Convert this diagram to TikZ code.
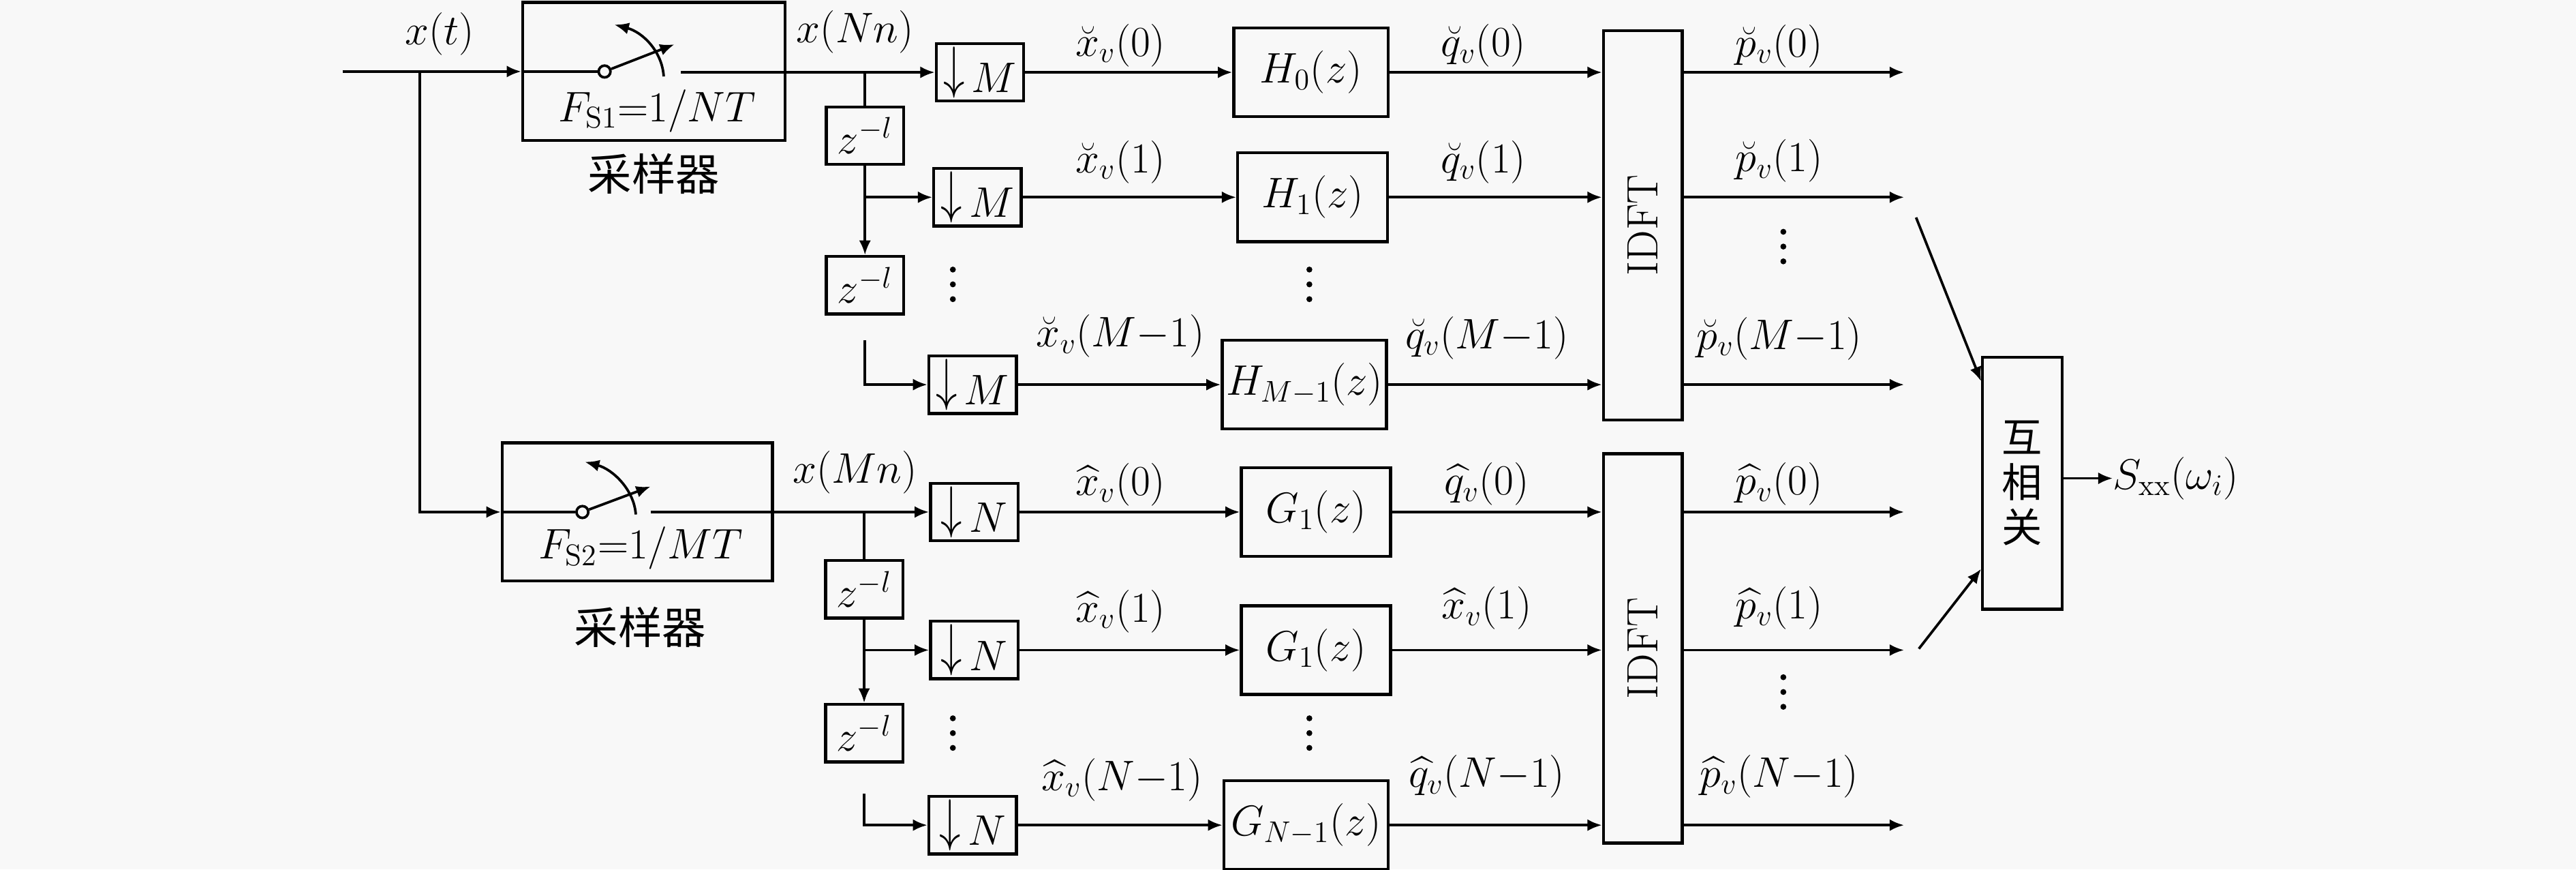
\RequirePackage{fix-cm}
\documentclass[tikz,border=0pt]{standalone}
\usepackage{amsmath}
\usepackage{fontspec}
\newfontfamily\cjk{Noto Sans CJK SC}
\usetikzlibrary{arrows.meta,calc}
\definecolor{bgc}{RGB}{248,248,248}
\newcommand{\dwn}[1]{\raisebox{2.5pt}{\scalebox{1}[1.35]{$\downarrow$}}\kern3pt$#1$}
\tikzset{
  ln/.style={line width=1.1pt},
  arr/.style={line width=1.1pt,-{Latex[length=2.2mm,width=1.8mm]}},
  blk/.style={draw,line width=1.3pt,inner sep=0pt},
  dbox/.style={blk,minimum width=1.33cm,minimum height=0.875cm},
  zbox/.style={blk,minimum width=1.175cm,minimum height=0.875cm},
  fbox/.style={blk,minimum height=1.35cm},
  ibox/.style={blk,minimum width=1.2cm,minimum height=5.92cm},
  lbl/.style={inner sep=0pt,anchor=base},
  swc/.style={circle,draw,line width=1.1pt,inner sep=0pt,minimum size=0.18cm,fill=bgc},
  cntext/.style={inner sep=0pt,font=\cjk\fontsize{19}{22}\selectfont},
}
\begin{document}
\begin{tikzpicture}[x=0.025cm,y=-0.025cm,font=\fontsize{18.5}{22}\selectfont]
\fill[bgc] (0,0) rectangle (1568,529);
\useasboundingbox (0,0) rectangle (1568,529);

% ---------- samplers ----------
\node[blk,minimum width=3.99cm,minimum height=2.1cm] (s1) at (398,43.5) {};
\node[blk,minimum width=4.11cm,minimum height=2.1cm] (s2) at (388,311.5) {};
\node[lbl] (fs1) at (400,74) {$F_{\mathrm{S1}}{=}1/NT$};
\node[lbl] (fs2) at (390,340) {$F_{\mathrm{S2}}{=}1/MT$};
\node[cntext] (cn1) at (398,105.8) {采样器};
\node[cntext] (cn2) at (389.6,381.6) {采样器};

\node[swc] (c1) at (368,43.5) {};
\node[swc] (c2) at (354.5,311.5) {};
\draw[ln] (s1.west) -- (c1);
\draw[arr] (c1) -- (410.5,27);
\draw[arr] (404,46.5) .. controls (403,31) and (391,19.5) .. (374,15);
\draw[ln] (s2.west) -- (c2);
\draw[arr] (c2) -- (396,296);
\draw[arr] (387,313) .. controls (386,298) and (373,285.5) .. (356,281);

% ---------- input ----------
\coordinate (in) at (208.5,43.5);
\coordinate (br) at (255.5,43.5);
\node[lbl] (xt) at (267.5,27) {$x(t)$};
\draw[arr] (in) -- (s1.west);
\draw[arr] (br) |- (s2.west);

% ---------- upper bank ----------
\coordinate (k1) at (414.5,44);
\node[lbl] (xnn) at (520.5,26) {$x(Nn)$};
\node[dbox] (d1) at (596.5,44) {\dwn{M}};
\node[dbox] (d2) at (595,120) {\dwn{M}};
\node[dbox] (d3) at (592,234) {\dwn{M}};
\node[zbox] (z1) at (526.5,82.5) {$z^{-l}$};
\node[zbox] (z2) at (526.5,173.5) {$z^{-l}$};
\coordinate (t1) at (527,207);
\draw[arr] (k1) -- (d1.west);
\draw[ln] (z1.north |- d1.west) -- (z1.north);
\draw[arr] (z1.south) -- (z2.north);
\draw[arr] (z1.south |- d2.west) -- (d2.west);
\draw[arr] (t1 -| z2.south) |- (d3.west);

\node[fbox,minimum width=2.35cm] (h0) at (798,44) {$H_0(z)$};
\node[fbox,minimum width=2.28cm] (h1) at (799,120) {$H_1(z)$};
\node[fbox,minimum width=2.5cm] (hM) at (794,234) {$H_{M{-}1}(z)$};
\draw[arr] (d1.east) -- (h0.west);
\draw[arr] (d2.east) -- (h1.west);
\draw[arr] (d3.east) -- (hM.west);

\node[ibox] (idft1) at (1000,137) {};
\node[rotate=90,inner sep=0pt,font=\fontsize{19}{22}\selectfont] (tx1) at (idft1.center) {IDFT};
\draw[arr] (h0.east) -- (h0.east -| idft1.west);
\draw[arr] (h1.east) -- (h1.east -| idft1.west);
\draw[arr] (hM.east) -- (hM.east -| idft1.west);

\coordinate (oA) at (1159,44);
\coordinate (oB) at (1159,120);
\coordinate (oC) at (1159,234);
\draw[arr] (oA -| idft1.east) -- (oA);
\draw[arr] (oB -| idft1.east) -- (oB);
\draw[arr] (oC -| idft1.east) -- (oC);

\node[lbl] (lx0) at (682,34.2) {$\breve{x}_v(0)$};
\node[lbl] (lx1) at (682,105) {$\breve{x}_v(1)$};
\node[lbl] (lxM) at (682,211) {$\breve{x}_v(M{-}1)$};
\node[lbl] (lq0) at (903,34.3) {$\breve{q}_v(0)$};
\node[lbl] (lq1) at (903,105) {$\breve{q}_v(1)$};
\node[lbl] (lqM) at (905,212) {$\breve{q}_v(M{-}1)$};
\node[lbl] (lp0) at (1083,34.5) {$\breve{p}_v(0)$};
\node[lbl] (lp1) at (1083,104.5) {$\breve{p}_v(1)$};
\node[lbl] (lpM) at (1083,212.5) {$\breve{p}_v(M{-}1)$};

% ---------- lower bank ----------
\coordinate (k2) at (396,311.5);
\node[lbl] (xmn) at (520.5,294) {$x(Mn)$};
\node[dbox] (n1) at (593,311.5) {\dwn{N}};
\node[dbox] (n2) at (593,395.5) {\dwn{N}};
\node[dbox] (n3) at (592,502) {\dwn{N}};
\node[zbox] (z3) at (526,358.5) {$z^{-l}$};
\node[zbox] (z4) at (526,446) {$z^{-l}$};
\coordinate (t2) at (526,483);
\draw[arr] (k2) -- (n1.west);
\draw[ln] (z3.north |- n1.west) -- (z3.north);
\draw[arr] (z3.south) -- (z4.north);
\draw[arr] (z3.south |- n2.west) -- (n2.west);
\draw[arr] (t2 -| z4.south) |- (n3.west);

\node[fbox,minimum width=2.27cm] (g0) at (801,311.5) {$G_1(z)$};
\node[fbox,minimum width=2.27cm] (g1) at (801,395.5) {$G_1(z)$};
\node[fbox,minimum width=2.5cm] (gN) at (795,502) {$G_{N{-}1}(z)$};
\draw[arr] (n1.east) -- (g0.west);
\draw[arr] (n2.east) -- (g1.west);
\draw[arr] (n3.east) -- (gN.west);

\node[ibox] (idft2) at (1000,394.5) {};
\node[rotate=90,inner sep=0pt,font=\fontsize{19}{22}\selectfont] (tx2) at (idft2.center) {IDFT};
\draw[arr] (g0.east) -- (g0.east -| idft2.west);
\draw[arr] (g1.east) -- (g1.east -| idft2.west);
\draw[arr] (gN.east) -- (gN.east -| idft2.west);

\coordinate (oD) at (1159,311.5);
\coordinate (oE) at (1159,395.5);
\coordinate (oF) at (1159,502);
\draw[arr] (oD -| idft2.east) -- (oD);
\draw[arr] (oE -| idft2.east) -- (oE);
\draw[arr] (oF -| idft2.east) -- (oF);

\node[lbl] (hx0) at (682,301.5) {$\widehat{x}_v(0)$};
\node[lbl] (hx1) at (682,378.5) {$\widehat{x}_v(1)$};
\node[lbl] (hxN) at (683,481) {$\widehat{x}_v(N{-}1)$};
\node[lbl] (hq0) at (905,301) {$\widehat{q}_v(0)$};
\node[lbl] (hq1) at (905,376.5) {$\widehat{x}_v(1)$};
\node[lbl] (hqN) at (905,479) {$\widehat{q}_v(N{-}1)$};
\node[lbl] (hp0) at (1083,301) {$\widehat{p}_v(0)$};
\node[lbl] (hp1) at (1083,376.5) {$\widehat{p}_v(1)$};
\node[lbl] (hpN) at (1083,479) {$\widehat{p}_v(N{-}1)$};

% ---------- dots ----------
\foreach \cx/\cy in {580/173,797/173,1085.5/150,580/446,797/446,1085.5/421}{
  \foreach \dd in {-9,0,9}{
    \fill (\cx,\cy+\dd) circle[radius=0.045cm];
  }
}

% ---------- cross-correlation ----------
\node[blk,minimum width=1.21cm,minimum height=3.83cm,align=center,
      font=\cjk\fontsize{17.5}{19.5}\selectfont] (corr) at (1231,294) {互\\相\\关};
\coordinate (dA) at (1166.3,132.3);
\coordinate (dB) at (1168,394.7);
\draw[arr] (dA) -- ($(corr.north west)+(0,15.5)$);
\draw[arr] (dB) -- ($(corr.south west)+(0,-25.4)$);
\node[inner sep=0pt,anchor=west] (sxx) at (1286,291) {$S_{\mathrm{xx}}(\omega_i)$};
\draw[arr] (corr.east |- sxx.west) -- (sxx.west);
\end{tikzpicture}
\end{document}
